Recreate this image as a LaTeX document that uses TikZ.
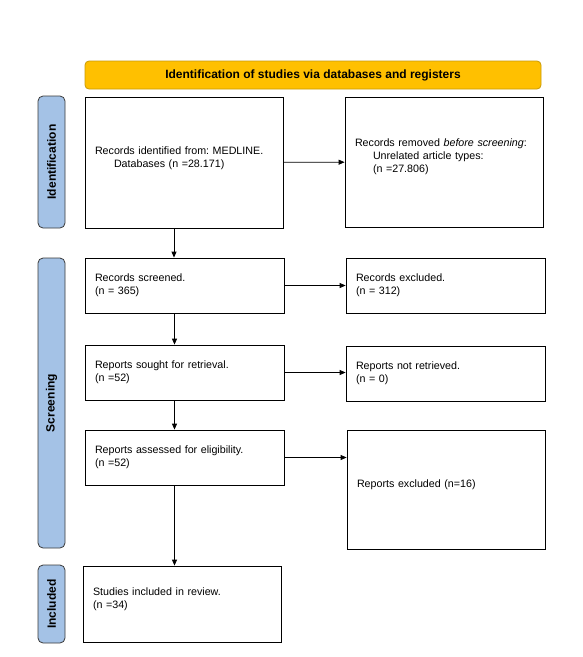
\documentclass[tikz,border=0pt]{standalone}
\usepackage{fontspec}
\setmainfont{Liberation Sans}
\usetikzlibrary{arrows.meta}
\definecolor{headgold}{HTML}{FFC000}
\definecolor{headedge}{HTML}{C99A06}
\definecolor{phaseblue}{HTML}{A4C2E6}
\definecolor{phaseedge}{HTML}{3A3A3A}
\frenchspacing

\begin{document}
\begin{tikzpicture}[x=1pt,y=-1pt,
  every node/.style={font=\fontsize{10.7}{12.8}\selectfont},
  box/.style={draw=black,line width=0.8pt,fill=white,inner xsep=10pt,inner ysep=2pt,align=left},
  header/.style={draw=headedge,fill=headgold,rounded corners=4pt,line width=0.8pt,font=\fontsize{12}{14}\selectfont\bfseries},
  phase/.style={draw=phaseedge,fill=phaseblue,rounded corners=5pt,line width=0.8pt,rotate=90,minimum height=27pt,font=\fontsize{12}{14}\selectfont\bfseries},
  flow/.style={-{Triangle[length=6pt,width=5pt]},line width=0.8pt}]
\useasboundingbox (0,0) rectangle (583,657);
\node[header,minimum width=456pt,minimum height=28pt] (head) at (313,75) {Identification of studies via databases and registers};
\node[phase,minimum width=132pt] (phid) at (51.5,162) {Identification};
\node[phase,minimum width=290pt] (phscr) at (51.5,403) {Screening};
\node[phase,minimum width=78pt] (phinc) at (51.5,604) {Included};
\node[box,text width=178pt,minimum height=131pt,text depth=24pt] (ident) at (184,162.5) {Records identified from: MEDLINE.\\\hspace*{19pt}Databases (n =28.171)};
\node[box,text width=178pt,minimum height=130pt,text depth=38pt] (removed) at (444,162) {Records removed \textit{before screening}:\\\hspace*{18pt}Unrelated article types:\\\hspace*{18pt}(n =27.806)};
\node[box,text width=179pt,minimum height=55pt] (screened) at (184.5,285.5) {Records screened.\\(n = 365)};
\node[box,text width=179pt,minimum height=55pt] (excl) at (445.5,285.5) {Records excluded.\\(n = 312)};
\node[box,text width=179pt,minimum height=55pt] (sought) at (184.5,372.5) {Reports sought for retrieval.\\(n =52)};
\node[box,text width=179pt,minimum height=55pt] (notret) at (445.5,373.5) {Reports not retrieved.\\(n = 0)};
\node[box,text width=179pt,minimum height=55pt] (assess) at (184.5,457.5) {Reports assessed for eligibility.\\(n =52)};
\node[box,text width=178pt,minimum height=119pt,text depth=12pt] (exclrep) at (446,489.5) {Reports excluded (n=16)};
\node[box,text width=178pt,minimum height=76pt,text depth=24pt] (incl) at (182,604) {Studies included in review.\\(n =34)};
\coordinate (d1) at ([xshift=-10pt]ident.south);
\coordinate (d2) at ([xshift=-10pt]screened.south);
\coordinate (d3) at ([xshift=-10pt]sought.south);
\coordinate (d4) at ([xshift=-10pt]assess.south);
\draw[flow] (ident) -- (removed);
\draw[flow] (screened) -- (excl);
\draw[flow] (sought.east) -- (sought.east -| notret.west);
\draw[flow] (assess.east) -- (assess.east -| exclrep.west);
\draw[flow] (d1) -- (d1 |- screened.north);
\draw[flow] (d2) -- (d2 |- sought.north);
\draw[flow] (d3) -- (d3 |- assess.north);
\draw[flow] (d4) -- (d4 |- incl.north);
\end{tikzpicture}
\end{document}
